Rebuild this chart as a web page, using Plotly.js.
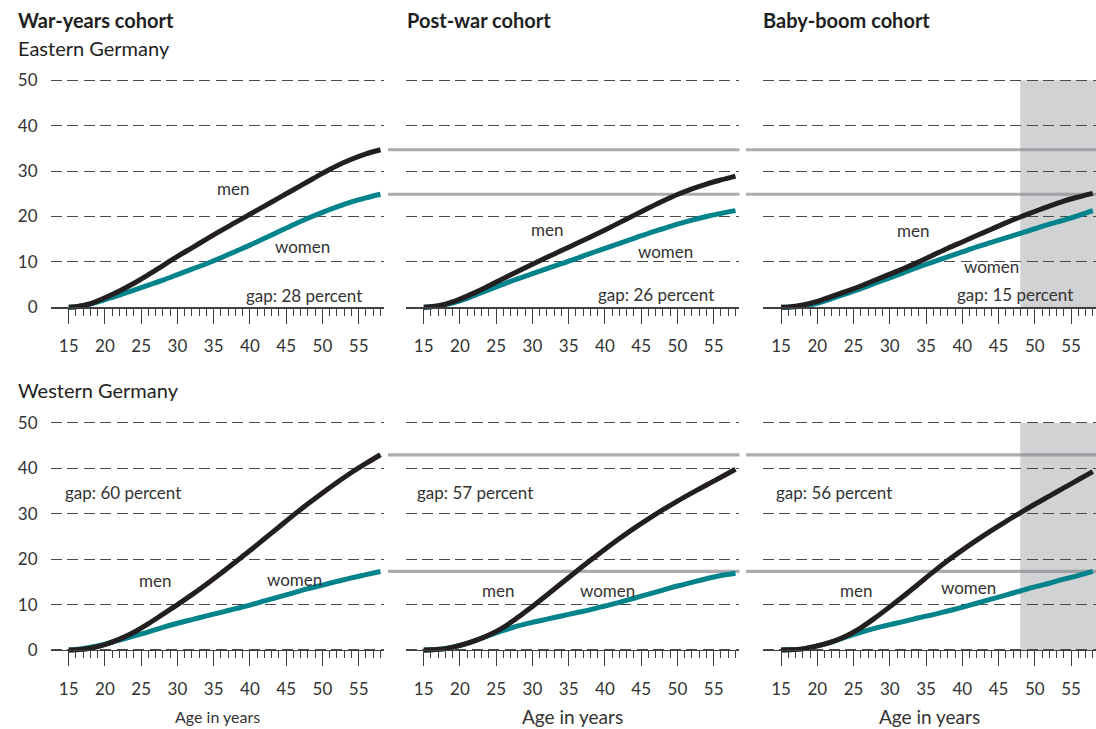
<!DOCTYPE html>
<html>
<head>
<meta charset="utf-8">
<script src="https://cdn.plot.ly/plotly-3.0.1.min.js"></script>
<style>html,body{margin:0;padding:0;background:#fff;}#chart{width:1096px;height:729px;}</style>
</head>
<body>
<div id="chart"></div>
<script>
// ---------------- data ----------------
const ages = [15,16,18,20,22,24,26,28,30,32,34,36,38,40,42,44,46,48,50,52,54,56,58];

const eastWarMen    = [0,0.1,0.8,2.1,3.6,5.3,7.2,9.2,11.2,13.1,15.0,16.9,18.7,20.5,22.3,24.1,25.9,27.7,29.5,31.2,32.6,33.8,34.7];
const eastWarWomen  = [0,0.1,0.7,1.7,2.7,3.8,4.9,6.0,7.2,8.4,9.6,10.9,12.3,13.7,15.2,16.7,18.2,19.6,20.9,22.1,23.2,24.1,24.9];
const eastPostMen   = [0,0.1,0.7,1.8,3.2,4.75,6.35,7.95,9.5,11.0,12.5,14.0,15.5,17.05,18.65,20.25,21.85,23.4,24.85,26.1,27.15,28.05,28.9];
const eastPostWomen = [0,0.1,0.6,1.4,2.6,3.9,5.1,6.3,7.4,8.5,9.6,10.7,11.9,13.0,14.1,15.2,16.3,17.3,18.3,19.2,20.0,20.7,21.3];
const eastBoomMen   = [0,0.05,0.5,1.3,2.4,3.5,4.7,6.0,7.3,8.6,10.0,11.5,13.0,14.4,15.8,17.2,18.6,19.9,21.1,22.3,23.4,24.3,25.1];
const eastBoomWomen = [0,0.03,0.3,0.9,1.9,3.0,4.1,5.3,6.5,7.7,8.9,10.0,11.1,12.2,13.3,14.3,15.3,16.3,17.3,18.3,19.2,20.2,21.3];

const westWarMen    = [0,0.05,0.4,1.2,2.4,3.9,5.8,7.9,10.0,12.2,14.5,16.9,19.4,21.9,24.5,27.1,29.7,32.2,34.6,36.9,39.1,41.1,43.0];
const westWarWomen  = [0,0.1,0.6,1.3,2.2,3.1,4.0,5.0,5.9,6.7,7.5,8.3,9.1,9.9,10.8,11.7,12.6,13.5,14.3,15.1,15.9,16.6,17.3];
const westPostMen   = [0,0.05,0.3,1.0,2.0,3.3,5.0,7.2,9.6,12.1,14.7,17.25,19.75,22.2,24.55,26.8,28.9,30.9,32.8,34.6,36.35,38.05,39.8];
const westPostWomen = [0,0.05,0.35,1.0,2.0,3.2,4.3,5.3,6.1,6.8,7.5,8.2,8.9,9.7,10.5,11.4,12.3,13.2,14.1,14.9,15.7,16.4,16.9];
const westBoomMen   = [0,0.03,0.25,0.9,1.8,3.1,4.9,7.1,9.5,12.0,14.6,17.2,19.7,22.0,24.2,26.3,28.3,30.2,32.1,33.9,35.7,37.5,39.3];
const westBoomWomen = [0,0.03,0.25,0.9,1.8,2.9,3.9,4.8,5.6,6.3,7.1,7.8,8.6,9.4,10.3,11.2,12.1,13.0,13.9,14.7,15.6,16.4,17.3];

const cohortTitles = ["War-years cohort", "Post-war cohort", "Baby-boom cohort"];
const regionTitles = ["Eastern Germany", "Western Germany"];
const gapLabels = [["gap: 28 percent","gap: 26 percent","gap: 15 percent"],
                   ["gap: 60 percent","gap: 57 percent","gap: 56 percent"]];
const xTickVals = [15,20,25,30,35,40,45,50,55];
const xMinorVals = [16,17,18,19,21,22,23,24,26,27,28,29,31,32,33,34,36,37,38,39,41,42,43,44,46,47,48,49,51,52,53,54,56,57,58];
const yTickVals = [0,10,20,30,40,50];
const shadeStart = 48;   // shaded age range in baby-boom cohort
const xTitle = "Age in years";

// ---------------- geometry ----------------
const W = 1096, H = 729;
const PXU = 4.54;            // px per percent
const FONT = "Lato, 'Open Sans', sans-serif";
const BLACK = "#231f20", TEAL = "#00838a", TXT = "#333333", AX = "#3f3f3f";
const py = p => 1 - p / H;
const px = p => p / W;
const yr = [-1.5, 50.6];
const zeroPx = [307.3, 650];
const ydom = z => [py(z - yr[0] * PXU), py(z - yr[1] * PXU)];
const xDomPx = [[50.6, 384.1], [405.6, 739.1], [762.9, 1096]];
const xRanges = [[12.5, 58.5], [12.5, 58.5], [12.5, 12.5 + (1096 - 762.9) / 7.25]];

const seriesGrid = [
  [[eastWarMen, eastWarWomen], [eastPostMen, eastPostWomen], [eastBoomMen, eastBoomWomen]],
  [[westWarMen, westWarWomen], [westPostMen, westPostWomen], [westBoomMen, westBoomWomen]]
];

const traces = [];
const layout = {
  width: W, height: H,
  margin: {l: 0, r: 0, t: 0, b: 0},
  paper_bgcolor: "#fff", plot_bgcolor: "rgba(0,0,0,0)",
  showlegend: false,
  font: {family: FONT, color: TXT},
  shapes: [], annotations: []
};

for (let r = 0; r < 2; r++) {
  for (let c = 0; c < 3; c++) {
    const idx = r * 3 + c + 1;
    const xn = idx === 1 ? "x" : "x" + idx;
    const yn = idx === 1 ? "y" : "y" + idx;
    const xk = idx === 1 ? "xaxis" : "xaxis" + idx;
    const yk = idx === 1 ? "yaxis" : "yaxis" + idx;
    layout[xk] = {
      domain: [px(xDomPx[c][0]), px(xDomPx[c][1])],
      range: xRanges[c],
      anchor: "free", position: py(zeroPx[r]),
      showline: true, linecolor: AX, linewidth: 1.3,
      showgrid: false, zeroline: false,
      tickmode: "array", tickvals: xTickVals,
      ticks: "outside", ticklen: 15, tickwidth: 1, tickcolor: AX,
      minor: {tickmode: "array", tickvals: xMinorVals, ticks: "outside", ticklen: 7, tickwidth: 1, tickcolor: AX, showgrid: false},
      tickfont: {family: FONT, size: 17, color: TXT},
      ticklabelstandoff: 8,
      fixedrange: true
    };
    layout[yk] = {
      domain: ydom(zeroPx[r]),
      range: yr,
      anchor: xn,
      showline: false, zeroline: false,
      tickmode: "array", tickvals: yTickVals,
      ticks: "", showticklabels: c === 0,
      ticklabelstandoff: 12,
      tickfont: {family: FONT, size: 17, color: TXT},
      showgrid: true, gridcolor: "#4a4a4a", gridwidth: 1, griddash: "11px,5.5px",
      fixedrange: true
    };
    const [men, women] = seriesGrid[r][c];
    traces.push({x: ages, y: women, xaxis: xn, yaxis: yn, type: "scatter", mode: "lines",
      line: {color: TEAL, width: 5, shape: "spline", smoothing: 1}, hoverinfo: "skip"});
    traces.push({x: ages, y: men, xaxis: xn, yaxis: yn, type: "scatter", mode: "lines",
      line: {color: BLACK, width: 5, shape: "spline", smoothing: 1}, hoverinfo: "skip"});
  }
}

// shaded age span in baby-boom cohort (drawn first, below everything)
[0, 1].forEach(r => {
  const idx = r * 3 + 3;
  layout.shapes.push({type: "rect", layer: "below", xref: "x" + idx, yref: "paper",
    x0: shadeStart, x1: xRanges[2][1],
    y0: py(zeroPx[r]), y1: py(zeroPx[r] - 50 * PXU),
    fillcolor: "#d1d2d4", line: {width: 0}});
});

// reference lines at the war-years cohort end values
const refs = [
  [eastWarMen[eastWarMen.length - 1], eastWarWomen[eastWarWomen.length - 1]],
  [westWarMen[westWarMen.length - 1], westWarWomen[westWarWomen.length - 1]]
];
const refSegs = [[388, 739.5], [746, 1096]];
[0, 1].forEach(r => {
  const yref = "y" + (r * 3 + 2);
  refs[r].forEach(v => {
    refSegs.forEach(s => {
      layout.shapes.push({type: "line", layer: "below", xref: "paper", yref: yref,
        x0: px(s[0]), x1: px(s[1]), y0: v, y1: v,
        line: {color: "rgba(140,140,146,0.72)", width: 3.2}});
    });
  });
});

// titles
const titleX = [16, 405, 761];
cohortTitles.forEach((t, i) => layout.annotations.push({
  text: t, xref: "paper", yref: "paper", x: px(titleX[i]), y: py(20),
  xanchor: "left", yanchor: "middle", showarrow: false,
  font: {family: FONT, size: 20, color: "#1e1e1e", weight: 700}
}));
const regionY = [48, 390];
regionTitles.forEach((t, i) => layout.annotations.push({
  text: t, xref: "paper", yref: "paper", x: px(16), y: py(regionY[i]),
  xanchor: "left", yanchor: "middle", showarrow: false,
  font: {family: FONT, size: 20, color: "#1e1e1e"}
}));

// in-panel labels (positions in data units)
const labelPos = [
  [ {men: [37.7, 26.1], women: [47.3, 13.3], gap: [47.45, 2.7]},
    {men: [32.0, 17.2], women: [48.4, 12.2], gap: [47.0, 2.9]},
    {men: [33.2, 17.0], women: [44.0, 8.9],  gap: [47.3, 2.9]} ],
  [ {men: [26.9, 15.2], women: [46.1, 15.6], gap: [22.5, 34.8]},
    {men: [25.25, 13.0], women: [40.3, 13.0], gap: [22.1, 34.8]},
    {men: [25.3, 13.0], women: [40.9, 13.7], gap: [22.3, 34.8]} ]
];
for (let r = 0; r < 2; r++) for (let c = 0; c < 3; c++) {
  const idx = r * 3 + c + 1;
  const xn = idx === 1 ? "x" : "x" + idx, yn = idx === 1 ? "y" : "y" + idx;
  const lp = labelPos[r][c];
  [["men", lp.men], ["women", lp.women], [gapLabels[r][c], lp.gap]].forEach(([t, p]) => {
    layout.annotations.push({text: t, xref: xn, yref: yn, x: p[0], y: p[1],
      xanchor: "center", yanchor: "middle", showarrow: false,
      font: {family: FONT, size: 17, color: TXT}});
  });
}

// x-axis titles under lower row
[4, 5, 6].forEach((idx, i) => layout.annotations.push({
  text: xTitle, xref: "x" + idx + " domain", yref: "paper", x: 0.5, y: py(716),
  xanchor: "center", yanchor: "middle", showarrow: false,
  font: {family: FONT, size: i === 0 ? 16 : 19, color: TXT}
}));

Plotly.newPlot("chart", traces, layout, {staticPlot: true, displayModeBar: false});
</script>
</body>
</html>
